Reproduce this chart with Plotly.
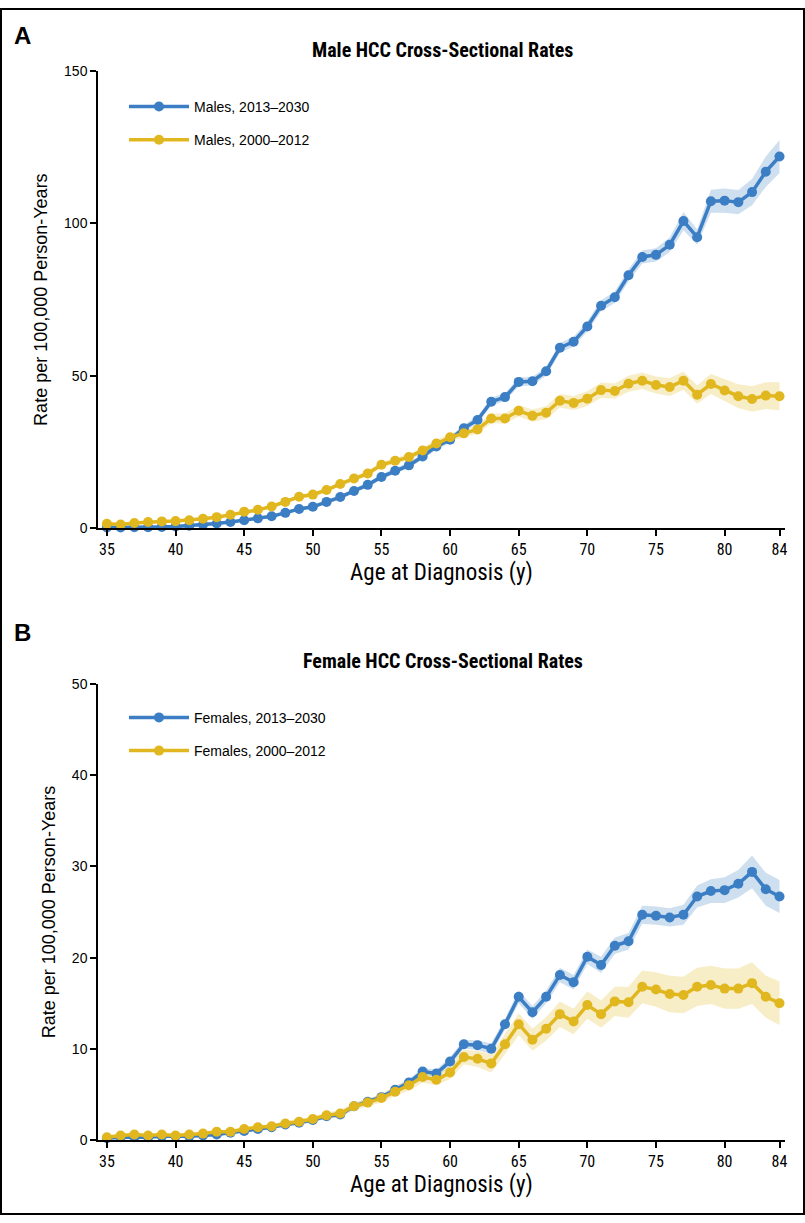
import plotly.graph_objects as go

ages = list(range(35, 85))

# Panel A: males
male_new = [0.2, 0.2, 0.3, 0.3, 0.4, 0.5, 0.8, 1.1, 1.5, 2.0,
            2.6, 3.2, 3.9, 5.0, 6.3, 7.0, 8.6, 10.2, 12.2, 14.2,
            16.8, 18.8, 20.6, 23.5, 26.8, 29.0, 32.8, 35.5, 41.5, 43.0,
            48.0, 48.2, 51.5, 59.2, 61.2, 66.2, 73.0, 75.8, 83.0, 89.0,
            89.7, 93.0, 100.8, 95.5, 107.3, 107.5, 107.0, 110.3, 117.0, 122.0]
male_new_hw = [0.3, 0.3, 0.3, 0.3, 0.3, 0.3, 0.3, 0.3, 0.4, 0.4,
               0.4, 0.5, 0.5, 0.5, 0.6, 0.6, 0.6, 0.7, 0.7, 0.8,
               0.8, 0.9, 0.9, 1.0, 1.0, 1.1, 1.1, 1.2, 1.3, 1.3,
               1.4, 1.4, 1.5, 1.6, 1.6, 1.7, 1.8, 1.9, 2.0, 2.1,
               2.2, 2.4, 3.0, 2.5, 3.8, 4.0, 4.0, 4.3, 5.0, 5.4]
male_old = [1.4, 1.2, 1.7, 2.0, 2.2, 2.3, 2.6, 3.1, 3.6, 4.4,
            5.4, 6.0, 7.1, 8.6, 10.3, 11.0, 12.5, 14.5, 16.3, 17.9,
            20.8, 22.1, 23.3, 25.5, 27.8, 29.8, 31.1, 32.4, 36.0, 36.0,
            38.5, 36.9, 37.9, 41.8, 41.1, 42.5, 45.3, 45.0, 47.4, 48.4,
            47.0, 46.3, 48.4, 43.8, 47.3, 45.2, 43.3, 42.4, 43.5, 43.3]
male_old_hw = [0.3, 0.3, 0.3, 0.3, 0.3, 0.3, 0.3, 0.4, 0.4, 0.4,
               0.5, 0.5, 0.5, 0.6, 0.6, 0.7, 0.7, 0.7, 0.8, 0.8,
               0.9, 0.9, 1.0, 1.0, 1.1, 1.2, 1.3, 1.4, 1.6, 1.7,
               1.9, 2.0, 2.1, 2.2, 2.3, 2.4, 2.5, 2.5, 2.6, 2.7,
               2.8, 2.9, 3.0, 3.0, 3.3, 3.6, 3.9, 4.2, 4.4, 4.6]

# Panel B: females
female_new = [0.2, 0.3, 0.3, 0.3, 0.4, 0.4, 0.4, 0.5, 0.6, 0.8,
              1.0, 1.2, 1.4, 1.7, 1.9, 2.2, 2.6, 2.8, 3.7, 4.2,
              4.7, 5.5, 6.3, 7.5, 7.3, 8.6, 10.5, 10.4, 10.0, 12.7,
              15.7, 14.0, 15.7, 18.1, 17.3, 20.1, 19.2, 21.3, 21.8, 24.7,
              24.6, 24.4, 24.7, 26.7, 27.3, 27.4, 28.1, 29.4, 27.5, 26.7]
female_new_hw = [0.1, 0.1, 0.1, 0.1, 0.1, 0.1, 0.1, 0.1, 0.1, 0.1,
                 0.2, 0.2, 0.2, 0.2, 0.2, 0.2, 0.3, 0.3, 0.3, 0.3,
                 0.3, 0.4, 0.4, 0.4, 0.4, 0.5, 0.5, 0.5, 0.6, 0.6,
                 0.7, 0.7, 0.7, 0.8, 0.8, 0.8, 0.9, 0.9, 0.9, 1.0,
                 1.0, 1.0, 1.1, 1.2, 1.3, 1.4, 1.5, 1.8, 1.8, 1.8]
female_old = [0.3, 0.5, 0.6, 0.5, 0.6, 0.5, 0.6, 0.7, 0.9, 0.9,
              1.2, 1.4, 1.5, 1.8, 2.0, 2.3, 2.7, 2.9, 3.7, 4.1,
              4.6, 5.3, 6.0, 6.9, 6.6, 7.4, 9.1, 8.9, 8.4, 10.5,
              12.7, 11.0, 12.2, 13.8, 13.0, 14.8, 13.8, 15.2, 15.1, 16.8,
              16.5, 16.0, 15.9, 16.8, 17.0, 16.6, 16.6, 17.2, 15.7, 15.0]
female_old_hw = [0.1, 0.1, 0.1, 0.1, 0.1, 0.1, 0.1, 0.1, 0.2, 0.2,
                 0.2, 0.2, 0.2, 0.3, 0.3, 0.3, 0.3, 0.4, 0.4, 0.4,
                 0.5, 0.5, 0.6, 0.6, 0.6, 0.7, 0.8, 0.9, 1.0, 1.1,
                 1.2, 1.2, 1.3, 1.4, 1.4, 1.5, 1.5, 1.6, 1.7, 1.8,
                 1.9, 2.0, 2.0, 2.1, 2.1, 2.2, 2.2, 2.3, 2.3, 2.4]

x_ticks = [35, 40, 45, 50, 55, 60, 65, 70, 75, 80, 84]

BLUE = "#3b7ec4"
YELLOW = "#e1b71f"
BLUE_BAND = "rgba(59,126,196,0.25)"
YELLOW_BAND = "rgba(225,183,31,0.25)"

COND = "Liberation Sans Narrow, Roboto Condensed, Arial Narrow, Liberation Sans, Arial, sans-serif"
REG = "Liberation Sans, Arial, Helvetica, sans-serif"

W, H = 805, 1223
ML, MR = 98, 20
PW = W - ML - MR


def px_x(p):
    return (p - ML) / PW


def px_y(p):
    return (H - p) / H


fig = go.Figure()


def add_band(vals, hw, band, xa, ya):
    lo = [v - h for v, h in zip(vals, hw)]
    hi = [v + h for v, h in zip(vals, hw)]
    fig.add_trace(go.Scatter(x=ages, y=lo, mode="lines", line=dict(width=0, color=band),
                             hoverinfo="skip", showlegend=False, xaxis=xa, yaxis=ya))
    fig.add_trace(go.Scatter(x=ages, y=hi, mode="lines", line=dict(width=0, color=band),
                             fill="tonexty", fillcolor=band, hoverinfo="skip",
                             showlegend=False, xaxis=xa, yaxis=ya))


def add_line(vals, color, name, xa, ya, legend):
    fig.add_trace(go.Scatter(x=ages, y=vals, mode="lines+markers", name=name,
                             line=dict(color=color, width=3.5),
                             marker=dict(color=color, size=10),
                             cliponaxis=False, legend=legend, legendgroup=name,
                             xaxis=xa, yaxis=ya))


add_band(male_new, male_new_hw, BLUE_BAND, "x", "y")
add_band(male_old, male_old_hw, YELLOW_BAND, "x", "y")
add_line(male_new, BLUE, "Males, 2013–2030", "x", "y", "legend")
add_line(male_old, YELLOW, "Males, 2000–2012", "x", "y", "legend")

add_band(female_new, female_new_hw, BLUE_BAND, "x2", "y2")
add_band(female_old, female_old_hw, YELLOW_BAND, "x2", "y2")
add_line(female_new, BLUE, "Females, 2013–2030", "x2", "y2", "legend2")
add_line(female_old, YELLOW, "Females, 2000–2012", "x2", "y2", "legend2")

xaxis_common = dict(range=[34.35, 84.4], tickmode="array", tickvals=x_ticks,
                    ticks="outside", ticklen=6, tickwidth=1.5, tickcolor="black",
                    showline=True, linecolor="black", linewidth=1.5,
                    showgrid=False, zeroline=False,
                    tickfont=dict(family=COND, size=16, color="black"),
                    title=dict(text="Age at Diagnosis (y)", standoff=4,
                               font=dict(family=COND, size=23, color="black")))
yaxis_common = dict(ticks="outside", ticklen=6, tickwidth=1.5, tickcolor="black",
                    showline=True, linecolor="black", linewidth=1.5,
                    showgrid=False, zeroline=False,
                    tickfont=dict(family=REG, size=14, color="black"),
                    title=dict(text="Rate per 100,000 Person-Years", standoff=12,
                               font=dict(family=REG, size=18, color="black")))

dA = [px_y(527), px_y(64)]
dB = [px_y(1147), px_y(685)]

fig.update_layout(
    width=W, height=H,
    margin=dict(l=ML, r=MR, t=0, b=0),
    paper_bgcolor="white", plot_bgcolor="white",
    xaxis=dict(**xaxis_common, domain=[0, 1], anchor="y"),
    yaxis=dict(**yaxis_common, domain=dA, range=[0, 150], tickvals=[0, 50, 100, 150], anchor="x"),
    xaxis2=dict(**xaxis_common, domain=[0, 1], anchor="y2"),
    yaxis2=dict(**yaxis_common, domain=dB, range=[0, 50], tickvals=[0, 10, 20, 30, 40, 50], anchor="x2"),
    legend=dict(x=px_x(124), y=px_y(84), xanchor="left", yanchor="top",
                font=dict(family=REG, size=14, color="black"), tracegroupgap=12,
                itemwidth=60, bgcolor="rgba(0,0,0,0)"),
    legend2=dict(x=px_x(124), y=px_y(703), xanchor="left", yanchor="top",
                 font=dict(family=REG, size=14, color="black"), tracegroupgap=12,
                 itemwidth=60, bgcolor="rgba(0,0,0,0)"),
    showlegend=True,
)

annos = [
    dict(text="<b>A</b>", x=px_x(12), y=px_y(28), font=dict(family=REG, size=24)),
    dict(text="<b>B</b>", x=px_x(12), y=px_y(633), font=dict(family=REG, size=24)),
    dict(text="<b>Male HCC Cross-Sectional Rates</b>", x=px_x(443), y=px_y(43),
         font=dict(family=COND, size=20), xanchor="center"),
    dict(text="<b>Female HCC Cross-Sectional Rates</b>", x=px_x(443), y=px_y(662),
         font=dict(family=COND, size=20), xanchor="center"),
]
for a in annos:
    fig.add_annotation(xref="paper", yref="paper", showarrow=False,
                       xanchor=a.get("xanchor", "left"), yanchor="middle",
                       x=a["x"], y=a["y"], text=a["text"],
                       font=dict(color="black", **a["font"]))

fig.add_shape(type="rect", xref="paper", yref="paper",
              x0=px_x(1), x1=px_x(804), y0=px_y(1222), y1=px_y(1),
              line=dict(color="black", width=2), fillcolor="rgba(0,0,0,0)")

fig.write_html("out.html", config={"displayModeBar": False},
               post_script="document.body.style.margin='0';document.body.style.overflow='hidden';")
